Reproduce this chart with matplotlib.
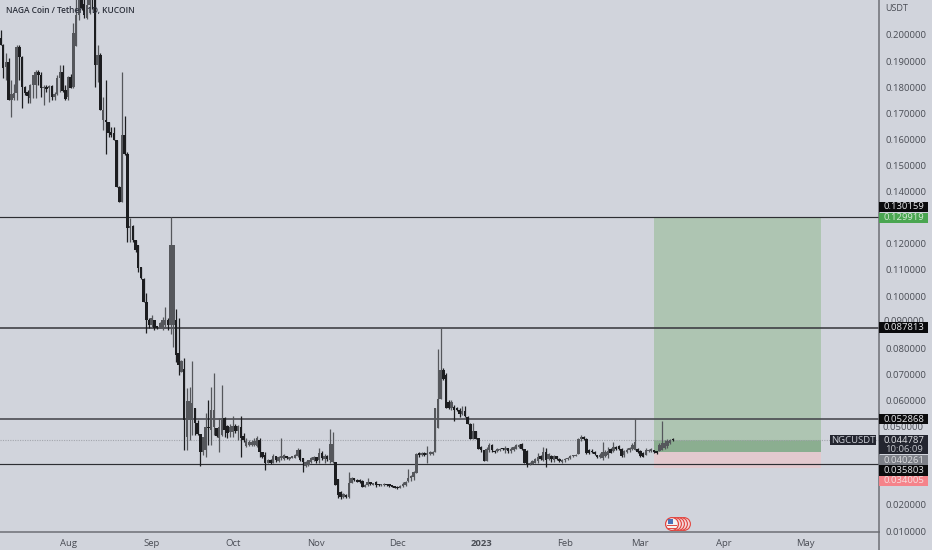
import matplotlib
matplotlib.use("Agg")
import matplotlib.pyplot as plt
import matplotlib.dates as mdates
from matplotlib.patches import Rectangle, Circle
from matplotlib.transforms import Affine2D
import pandas as pd
import numpy as np

plt.rcParams['font.family'] = ['Open Sans', 'DejaVu Sans']

title = "NAGA Coin / Tether, 1D, KUCOIN"
start_date = "2022-07-07"

opens = [
.1988,.1962,.1877,.1897,.1751,.1759,.1778,.1954,.1916,.1801,
.1782,.1759,.1808,.1808,.1858,.1847,.1797,.1801,.1797,.1805,
.1762,.1774,.1835,.1858,.1789,.1762,.1839,.1801,.1958,.2077,
.2134,.2120,.2065,.2115,.2190,.2170,.1885,.1923,.1674,.1674,
.1667,.1628,.1625,.1598,.1418,.1360,.1617,.1544,.1261,.1268,
.1215,.1196,.1111,.1065,.0977,.0908,.0889,.0908,.0885,.0882,
.0882,.0889,.0908,.0889,.0889,.0908,.0782,.0709,.0721,.0460,
.0525,.0525,.0571,.0514,.0472,.0403,.0411,.0499,.0487,.0499,
.0495,.0456,.0468,.0533,.0502,.0479,.0479,.0502,.0483,.0499,
.0464,.0426,.0430,.0430,.0430,.0426,.0449,.0403,.0391,.0361,
.0372,.0361,.0387,.0368,.0380,.0376,.0387,.0376,.0380,.0380,
.0387,.0411,.0380,.0349,.0353,.0365,.0372,.0384,.0372,.0399,
.0376,.0387,.0372,.0365,.0365,.0299,.0250,.0231,.0238,.0231,
.0284,.0303,.0296,.0296,.0292,.0269,.0277,.0288,.0277,.0288,
.0280,.0277,.0277,.0280,.0280,.0277,.0273,.0269,.0265,.0273,
.0277,.0292,.0303,.0307,.0322,.0399,.0391,.0399,.0391,.0395,
.0395,.0403,.0495,.0606,.0717,.0698,.0594,.0571,.0575,.0571,
.0564,.0548,.0560,.0537,.0510,.0453,.0483,.0456,.0422,.0411,
.0368,.0411,.0430,.0407,.0407,.0411,.0418,.0411,.0418,.0407,
.0411,.0414,.0422,.0433,.0414,.0407,.0357,.0357,.0361,.0368,
.0387,.0372,.0403,.0376,.0387,.0372,.0387,.0376,.0365,.0372,
.0376,.0380,.0387,.0387,.0395,.0453,.0460,.0453,.0411,.0407,
.0403,.0391,.0384,.0380,.0387,.0391,.0414,.0407,.0422,.0426,
.0414,.0391,.0403,.0411,.0414,.0411,.0414,.0407,.0399,.0391,
.0407,.0407,.0411,.0407,.0407,.0411,.0418,.0426,.0437,.0449]
highs = [
.2019,.1966,.1931,.1912,.1828,.1812,.1962,.1962,.1920,.1805,
.1789,.1812,.1847,.1866,.1866,.1858,.1808,.1808,.1808,.1808,
.1782,.1847,.1885,.1885,.1808,.1843,.1851,.2046,.2140,.2180,
.2170,.2150,.2160,.2220,.2250,.2170,.1962,.1931,.1762,.1828,
.1667,.1648,.1648,.1598,.1422,.1858,.1690,.1552,.1299,.1272,
.1215,.1196,.1111,.1069,.1012,.0916,.0928,.0889,.0885,.0901,
.0920,.0958,.0916,.1303,.1196,.0950,.0916,.0755,.0763,.0648,
.0652,.0751,.0571,.0525,.0472,.0460,.0552,.0602,.0652,.0705,
.0495,.0533,.0659,.0537,.0506,.0510,.0541,.0510,.0506,.0541,
.0476,.0456,.0449,.0449,.0456,.0464,.0456,.0403,.0403,.0376,
.0376,.0395,.0387,.0387,.0456,.0395,.0387,.0384,.0387,.0395,
.0418,.0414,.0380,.0368,.0368,.0384,.0387,.0384,.0418,.0407,
.0395,.0391,.0491,.0479,.0365,.0299,.0253,.0246,.0242,.0326,
.0307,.0303,.0299,.0299,.0296,.0280,.0303,.0288,.0284,.0292,
.0280,.0280,.0284,.0280,.0280,.0277,.0273,.0273,.0277,.0288,
.0292,.0338,.0315,.0330,.0399,.0403,.0403,.0403,.0426,.0407,
.0407,.0571,.0797,.0878,.0725,.0706,.0602,.0602,.0583,.0575,
.0571,.0579,.0579,.0541,.0514,.0514,.0483,.0456,.0426,.0411,
.0422,.0437,.0433,.0411,.0418,.0418,.0418,.0426,.0418,.0422,
.0426,.0433,.0433,.0437,.0414,.0411,.0365,.0372,.0380,.0399,
.0391,.0422,.0418,.0399,.0391,.0391,.0387,.0380,.0376,.0380,
.0384,.0391,.0391,.0395,.0456,.0468,.0464,.0456,.0414,.0414,
.0407,.0391,.0399,.0441,.0411,.0422,.0418,.0441,.0426,.0430,
.0418,.0411,.0418,.0422,.0437,.0529,.0418,.0411,.0403,.0418,
.0414,.0418,.0411,.0407,.0437,.0522,.0449,.0453,.0453,.0456]
lows = [
.1962,.1835,.1828,.1751,.1686,.1751,.1751,.1828,.1720,.1770,
.1740,.1740,.1759,.1759,.1808,.1762,.1732,.1782,.1743,.1751,
.1751,.1770,.1782,.1782,.1751,.1751,.1797,.1797,.1958,.2057,
.2096,.2065,.2061,.2080,.2100,.1801,.1820,.1713,.1636,.1544,
.1609,.1609,.1598,.1418,.1360,.1360,.1540,.1207,.1207,.1207,
.1169,.1092,.1065,.0977,.0859,.0878,.0878,.0870,.0874,.0878,
.0870,.0878,.0870,.0855,.0805,.0748,.0698,.0709,.0411,.0411,
.0449,.0468,.0468,.0468,.0349,.0391,.0384,.0430,.0430,.0468,
.0460,.0403,.0464,.0460,.0456,.0460,.0460,.0476,.0449,.0384,
.0441,.0422,.0426,.0426,.0426,.0422,.0384,.0380,.0334,.0361,
.0357,.0361,.0365,.0365,.0372,.0372,.0376,.0372,.0380,.0380,
.0384,.0368,.0326,.0345,.0349,.0361,.0368,.0361,.0361,.0372,
.0361,.0368,.0361,.0361,.0277,.0227,.0223,.0227,.0227,.0227,
.0284,.0292,.0288,.0284,.0269,.0269,.0273,.0277,.0277,.0269,
.0273,.0273,.0273,.0273,.0269,.0269,.0265,.0261,.0265,.0269,
.0273,.0288,.0292,.0296,.0322,.0384,.0387,.0387,.0361,.0391,
.0391,.0403,.0495,.0606,.0679,.0571,.0567,.0564,.0522,.0560,
.0537,.0545,.0537,.0510,.0453,.0453,.0453,.0414,.0403,.0368,
.0368,.0403,.0403,.0399,.0403,.0407,.0411,.0399,.0399,.0399,
.0407,.0414,.0418,.0411,.0361,.0345,.0353,.0357,.0361,.0361,
.0372,.0368,.0345,.0372,.0365,.0365,.0372,.0365,.0361,.0365,
.0372,.0376,.0384,.0387,.0395,.0445,.0449,.0395,.0395,.0399,
.0391,.0380,.0380,.0372,.0384,.0380,.0399,.0403,.0411,.0411,
.0384,.0384,.0399,.0403,.0411,.0411,.0399,.0384,.0384,.0391,
.0403,.0403,.0399,.0395,.0407,.0411,.0414,.0418,.0433,.0445]
closes = [
.1962,.1874,.1897,.1751,.1774,.1778,.1954,.1916,.1801,.1778,
.1766,.1808,.1847,.1858,.1847,.1797,.1801,.1793,.1805,.1762,
.1774,.1835,.1858,.1785,.1755,.1839,.1797,.2008,.2077,.2134,
.2103,.2077,.2115,.2190,.2170,.1885,.1923,.1713,.1713,.1667,
.1625,.1617,.1598,.1418,.1360,.1617,.1544,.1261,.1268,.1215,
.1177,.1108,.1069,.0977,.0908,.0889,.0916,.0878,.0878,.0897,
.0908,.0908,.0889,.1196,.1196,.0774,.0736,.0751,.0525,.0598,
.0598,.0590,.0514,.0472,.0403,.0460,.0499,.0495,.0564,.0564,
.0464,.0499,.0533,.0487,.0476,.0499,.0502,.0483,.0502,.0456,
.0449,.0445,.0441,.0441,.0445,.0456,.0403,.0384,.0361,.0372,
.0361,.0387,.0372,.0384,.0387,.0391,.0380,.0384,.0387,.0391,
.0411,.0372,.0365,.0365,.0372,.0380,.0384,.0368,.0399,.0380,
.0387,.0376,.0433,.0433,.0277,.0238,.0231,.0242,.0231,.0284,
.0303,.0296,.0288,.0288,.0269,.0277,.0288,.0280,.0284,.0277,
.0277,.0280,.0280,.0277,.0273,.0269,.0265,.0265,.0273,.0280,
.0288,.0303,.0311,.0326,.0395,.0391,.0399,.0391,.0399,.0403,
.0403,.0571,.0606,.0717,.0682,.0571,.0571,.0594,.0564,.0564,
.0548,.0560,.0541,.0510,.0453,.0483,.0453,.0414,.0411,.0368,
.0414,.0430,.0411,.0403,.0414,.0414,.0414,.0418,.0407,.0414,
.0422,.0430,.0430,.0414,.0361,.0357,.0361,.0368,.0376,.0384,
.0376,.0403,.0372,.0395,.0376,.0387,.0376,.0368,.0372,.0376,
.0380,.0387,.0391,.0391,.0453,.0460,.0453,.0399,.0399,.0403,
.0395,.0384,.0391,.0403,.0403,.0407,.0399,.0422,.0414,.0414,
.0387,.0407,.0411,.0418,.0430,.0441,.0403,.0387,.0384,.0411,
.0411,.0414,.0403,.0399,.0430,.0437,.0437,.0445,.0449,.04479]

level_lines = [0.130159, 0.087813, 0.052868, 0.035803]
level_widths = [0.85, 1.15, 1.15, 0.85]
level_colors = ["#2d2e33", "#3a3b40", "#45464c", "#2d2e33"]
last_price = 0.044787
entry = 0.040261
target = 0.129919
stop = 0.034005
pos_start, pos_end = "2023-03-06", "2023-05-07"

month_ticks = ["2022-08-01","2022-09-01","2022-10-01","2022-11-01","2022-12-01",
               "2023-01-01","2023-02-01","2023-03-01","2023-04-01","2023-05-01"]
month_labels = ["Aug","Sep","Oct","Nov","Dec","2023","Feb","Mar","Apr","May"]
price_ticks = [0.20,0.19,0.18,0.17,0.16,0.15,0.14,0.12,0.11,0.10,0.08,0.07,0.06,0.02,0.01]

BG = "#d1d4dc"
UP = "#55575c"
DOWN = "#1c1d20"
TXT = "#4a4d55"

W, H = 932, 550
fig = plt.figure(figsize=(W/100, H/100), dpi=100, facecolor=BG)
ax = fig.add_axes([0, 18/H, 879/W, 532/H], facecolor=BG)

dates = pd.date_range(start_date, periods=len(opens))
xs = mdates.date2num(dates)
o, h, l, c = map(np.array, (opens, highs, lows, closes))
cols = np.where(c >= o, UP, DOWN)

x0 = mdates.date2num(pd.Timestamp("2022-08-01")) - 68/2.7
ax.set_xlim(x0, x0 + 879/2.7)
ax.set_ylim(0.00964, 0.2134)

# position tool
ps, pe = mdates.date2num(pd.Timestamp(pos_start)), mdates.date2num(pd.Timestamp(pos_end))
ax.fill_between([ps, pe], entry, target, color="#aec5b2", lw=0, zorder=1)
ax.fill_between([ps, pe], entry, last_price, color="#8bae90", lw=0, zorder=1.1)
ax.fill_between([ps, pe], stop, entry, color="#e3c9ce", lw=0, zorder=1)

ax.axhline(last_price, color="#a3a6ad", lw=0.8, ls=(0, (1, 1.2)), zorder=1.5)
for lv, lw_, lc in zip(level_lines, level_widths, level_colors):
    ax.axhline(lv, color=lc, lw=lw_, zorder=2)

ax.vlines(xs, l, h, colors=cols, lw=0.9, zorder=3)
ax.bar(xs, np.maximum(np.abs(c - o), 0.0005), bottom=np.minimum(o, c), width=0.92,
       color=cols, lw=0, zorder=3.2)

for s in ("top", "left"):
    ax.spines[s].set_visible(False)
ax.spines["right"].set_color("#6d6f76")
ax.spines["bottom"].set_color("#6d6f76")
ax.spines["right"].set_linewidth(1.1)
ax.spines["bottom"].set_linewidth(1.1)

ax.set_xticks(mdates.date2num(pd.to_datetime(month_ticks)))
ax.set_xticklabels(month_labels, fontsize=6.8, color=TXT)
for t in ax.get_xticklabels():
    if t.get_text() == "2023":
        t.set_fontweight("bold")
ax.tick_params(axis="x", length=0, pad=5)
ax.yaxis.tick_right()
ax.set_yticks(price_ticks)
ax.set_yticklabels([f"{p:.6f}" for p in price_ticks], fontsize=6.8, color=TXT)
ax.tick_params(axis="y", length=0, pad=4.5)

ax.plot([1, 1], [-18/532, 0], transform=ax.transAxes, color="#6d6f76", lw=1.1, clip_on=False)

fig.text(5.5/W, 1 - 10/H, title, fontsize=6.0, fontweight="semibold", color="#2a2e39", va="center", ha="left")
fig.text(885/W, 1 - 8.5/H, "USDT", fontsize=6.5, color=TXT, va="center", ha="left")

ytr = ax.get_yaxis_transform()
PX = 1 / 2610.0
def tag(level, text, face, color="#e8e9ec", x0=879, x1=928, hpx=11):
    xa0, xa1 = x0/879, x1/879
    ax.add_patch(Rectangle((xa0, level - hpx/2*PX), xa1 - xa0, hpx*PX, transform=ytr, facecolor=face,
                           edgecolor="none", clip_on=False, zorder=6))
    ax.text((xa0 + xa1)/2, level, text, transform=ytr, fontsize=6.8, color=color, ha="center",
            va="center", clip_on=False, zorder=7)

# (the tags stack below each other, so each is offset from its own level)
tag(0.130159 + 0.0040, "0.130159", "#0b0b0d", hpx=10)
tag(0.129919, "0.129919", "#4aa651", "#d5ecd6", hpx=10)
tag(0.087813, "0.087813", "#0b0b0d")
tag(0.052868, "0.052868", "#0b0b0d", hpx=10)
tag(0.044787, "NGCUSDT", "#23252f", "#c9ccd4", x0=830, x1=876, hpx=10)
tag(0.044787 - 0.0017, "", "#23252f", hpx=19)
ax.text(903.5/879, 0.04479, "0.044787", transform=ytr, fontsize=6.8, color="#e0e1e5", ha="center",
        va="center", clip_on=False, zorder=7)
ax.text(903.5/879, 0.04110, "10:06:09", transform=ytr, fontsize=6.8, color="#c3c5cb", ha="center",
        va="center", clip_on=False, zorder=7)
tag(0.040261 - 0.0031, "0.040261", "#7d8088", "#dadbde", hpx=10)
tag(0.035803 - 0.0025, "0.035803", "#0b0b0d", hpx=11)
tag(0.034005 - 0.0048, "0.034005", "#f5838a", "#f6dfe0", hpx=10)

# tick labels that the reference shows half covered by the neighbouring tags
for p in (0.09, 0.05):
    ax.text(903.5/879, p - 0.0004 if p == 0.05 else p + 0.0004, f"{p:.6f}", transform=ytr, fontsize=6.8,
            color=TXT, ha="center", va="center", clip_on=False, zorder=5)

# flag badge, placed in pixels from the top left corner
px = Affine2D().scale(1, -1).translate(0, H)
for cx, fc in [(684, "#f3d7d9"), (681, "#f3d7d9"), (678, "#f3d7d9"), (675, "#f3d7d9")]:
    fig.add_artist(Circle((cx, 524), 6.4, transform=px, facecolor=fc, edgecolor="#e2453f", lw=0.8))
fig.add_artist(Circle((672, 524), 6.4, transform=px, facecolor="#f4f2f2", edgecolor="#e2453f", lw=0.9))
fig.add_artist(Rectangle((667, 525), 10, 1.2, transform=px, facecolor="#de4a45", lw=0))
fig.add_artist(Rectangle((667, 527.5), 9, 1.2, transform=px, facecolor="#de4a45", lw=0))
fig.add_artist(Rectangle((667.5, 519), 5, 5, transform=px, facecolor="#4a72b8", lw=0))

fig.savefig("out.png", dpi=100, facecolor=BG)
